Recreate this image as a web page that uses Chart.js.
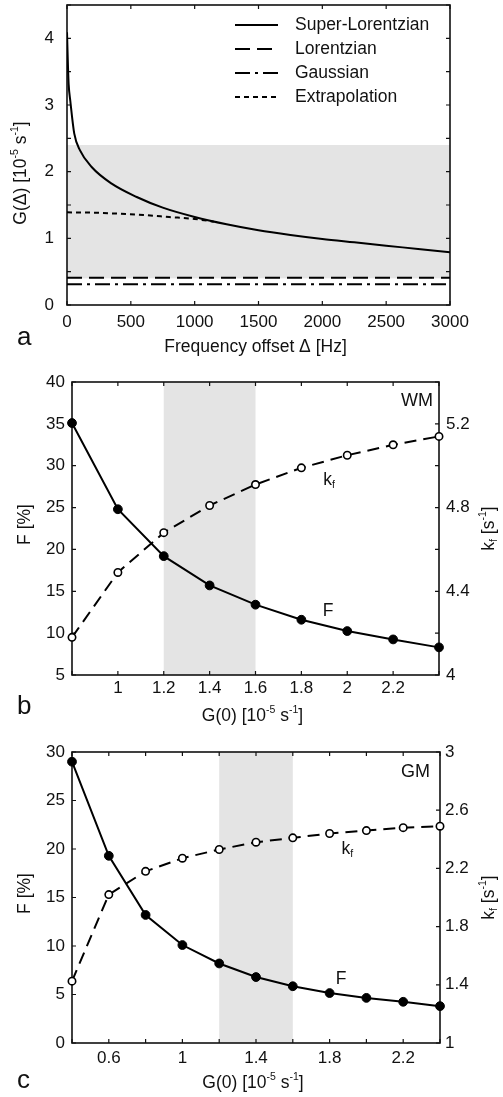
<!DOCTYPE html>
<html>
<head>
<meta charset="utf-8">
<script src="https://cdn.jsdelivr.net/npm/chart.js@4.4.1/dist/chart.umd.min.js"></script>
<style>
  body { margin: 0; background: #fff; }
  .pannello { position: absolute; left: 0; }
</style>
</head>
<body>
<canvas id="graficoA" class="pannello" width="503" height="365" style="top:0px"></canvas>
<canvas id="graficoB" class="pannello" width="503" height="365" style="top:365px"></canvas>
<canvas id="graficoC" class="pannello" width="503" height="367" style="top:730px"></canvas>
<script>
// === DATI ===
// Pannello a: G(Δ) [10^-5 s^-1] in funzione dell'offset di frequenza [Hz]
const freqSuperLor = [0, 8, 13, 26, 57, 102, 193, 350, 546, 750, 1000, 1250, 1500, 1750, 2000, 2250, 2500, 2750, 3000];
const gSuperLor    = [4.09, 3.56, 3.31, 3.06, 2.57, 2.32, 2.07, 1.82, 1.62, 1.46, 1.32, 1.21, 1.12, 1.05, 0.99, 0.94, 0.89, 0.84, 0.79];
const freqExtrap   = [0, 200, 400, 600, 800, 1000, 1150];
const gExtrap      = [1.39, 1.385, 1.37, 1.35, 1.32, 1.29, 1.25];
const freqCostanti = [0, 3000];
const gLorentz     = [0.41, 0.41];
const gGauss       = [0.31, 0.31];
const bandaG       = [0.4, 2.4];
const tickFreq     = [0, 3000, 500];
const tickG        = [0, 4.5, 0.5];

// Pannello b: sostanza bianca (WM)
const g0WM  = [0.8, 1.0, 1.2, 1.4, 1.6, 1.8, 2.0, 2.2, 2.4];
const fWM   = [35.1, 24.8, 19.2, 15.7, 13.4, 11.6, 10.25, 9.25, 8.3];
const kfWM  = [4.18, 4.49, 4.68, 4.81, 4.91, 4.99, 5.05, 5.10, 5.14];

// Pannello c: sostanza grigia (GM)
const g0GM  = [0.4, 0.6, 0.8, 1.0, 1.2, 1.4, 1.6, 1.8, 2.0, 2.2, 2.4];
const fGM   = [29.0, 19.3, 13.2, 10.1, 8.2, 6.8, 5.85, 5.15, 4.65, 4.25, 3.8];
const kfGM  = [1.425, 2.02, 2.18, 2.27, 2.33, 2.38, 2.41, 2.44, 2.46, 2.48, 2.49];

// intervallo G(0) evidenziato nei pannelli b e c
const bandaG0 = [1.2, 1.6];

const FONT = "'Liberation Sans', Arial, Helvetica, sans-serif";
const NERO = '#111';
Chart.defaults.font.family = FONT;
Chart.defaults.font.size = 17;
Chart.defaults.color = NERO;

// Scrive testo con apici / pedici: pezzi = [[testo, 'sup'|'sub'|undefined], ...]
function scriviRicco(ctx, pezzi, x, y, dim, allinea = 'center', ruota = false) {
  ctx.save();
  ctx.translate(x, y);
  if (ruota) ctx.rotate(-Math.PI / 2);
  ctx.textBaseline = 'middle';
  ctx.fillStyle = NERO;
  const misure = pezzi.map(([t, tipo]) => {
    ctx.font = `${tipo ? dim * 0.6 : dim}px ${FONT}`;
    return ctx.measureText(t).width;
  });
  const tot = misure.reduce((a, b) => a + b, 0);
  let cx = allinea === 'center' ? -tot / 2 : (allinea === 'right' ? -tot : 0);
  pezzi.forEach(([t, tipo], i) => {
    ctx.font = `${tipo ? dim * 0.6 : dim}px ${FONT}`;
    const dy = tipo === 'sup' ? -dim * 0.32 : (tipo === 'sub' ? dim * 0.3 : 0);
    ctx.fillText(t, cx, dy);
    cx += misure[i];
  });
  ctx.restore();
}

// Plugin: banda grigia, tacche interne, riquadro, testi
const pluginCornice = {
  id: 'cornice',
  beforeDatasetsDraw(chart, args, opz) {
    const { ctx, chartArea: a, scales } = chart;
    ctx.save();
    if (opz.banda) {
      const [da, fino] = opz.banda.valori;
      ctx.fillStyle = '#e4e4e4';
      if (opz.banda.asse === 'x') {
        const x1 = scales.x.getPixelForValue(da), x2 = scales.x.getPixelForValue(fino);
        ctx.fillRect(x1, a.top, x2 - x1, a.bottom - a.top);
      } else {
        const y1 = scales.y.getPixelForValue(fino), y2 = scales.y.getPixelForValue(da);
        ctx.fillRect(a.left, y1, a.right - a.left, y2 - y1);
      }
    }
    const L = 4;
    ctx.strokeStyle = NERO;
    ctx.lineWidth = 1.2;
    ctx.beginPath();
    scales.x.ticks.forEach(t => {
      const px = scales.x.getPixelForValue(t.value);
      ctx.moveTo(px, a.bottom); ctx.lineTo(px, a.bottom - L);
      ctx.moveTo(px, a.top); ctx.lineTo(px, a.top + L);
    });
    scales.y.ticks.forEach(t => {
      const py = scales.y.getPixelForValue(t.value);
      ctx.moveTo(a.left, py); ctx.lineTo(a.left + L, py);
      if (!scales.y2) { ctx.moveTo(a.right, py); ctx.lineTo(a.right - L, py); }
    });
    if (scales.y2) {
      scales.y2.ticks.forEach(t => {
        const py = scales.y2.getPixelForValue(t.value);
        ctx.moveTo(a.right, py); ctx.lineTo(a.right - L, py);
      });
    }
    ctx.stroke();
    ctx.lineWidth = 1.6;
    ctx.strokeRect(a.left, a.top, a.right - a.left, a.bottom - a.top);
    ctx.restore();
  },
  afterDraw(chart, args, opz) {
    if (opz.testi) opz.testi(chart);
  }
};
Chart.register(pluginCornice);

// Costruisce un asse lineare con dimensione fissa
function asse(o) {
  return {
    type: 'linear',
    position: o.pos,
    min: o.min,
    max: o.max,
    grid: { display: false, drawTicks: false },
    border: { display: false },
    ticks: {
      stepSize: o.passo,
      padding: o.pad,
      autoSkip: false,
      maxRotation: 0,
      color: NERO,
      callback: o.etichetta
    },
    afterFit: s => {
      if (o.larghezza != null) s.width = o.larghezza;
      if (o.altezza != null) s.height = o.altezza;
      s.paddingTop = s.paddingBottom = s.paddingLeft = s.paddingRight = 0;
    }
  };
}

const arrotonda = v => Math.round(v * 10) / 10;
const punti = (xs, ys) => xs.map((x, i) => ({ x, y: ys[i] }));

function serieLinea(label, xs, ys, tratteggio, monot) {
  return {
    label,
    data: punti(xs, ys),
    borderColor: '#000',
    borderWidth: 2,
    borderDash: tratteggio,
    pointRadius: 0,
    fill: false,
    cubicInterpolationMode: monot ? 'monotone' : 'default',
    tension: 0
  };
}

// === PANNELLO a ===
function creaGraficoA() {
  const ctx = document.getElementById('graficoA').getContext('2d');
  const serie = [
    serieLinea('Extrapolation', freqExtrap, gExtrap, [5, 4], true),
    serieLinea('Super-Lorentzian', freqSuperLor, gSuperLor, [], true),
    serieLinea('Lorentzian', freqCostanti, gLorentz, [15, 7], false),
    serieLinea('Gaussian', freqCostanti, gGauss, [15, 5, 3, 5], false)
  ];
  const ordineLegenda = ['Super-Lorentzian', 'Lorentzian', 'Gaussian', 'Extrapolation'];
  new Chart(ctx, {
    type: 'line',
    data: { datasets: serie },
    options: {
      responsive: false,
      animation: false,
      layout: { padding: { top: 5, right: 53, left: 0, bottom: 0 } },
      scales: {
        x: asse({ pos: 'bottom', min: tickFreq[0], max: tickFreq[1], passo: tickFreq[2], pad: 7, altezza: 60,
                  etichetta: v => String(v) }),
        y: asse({ pos: 'left', min: tickG[0], max: tickG[1], passo: tickG[2], pad: 13, larghezza: 67,
                  etichetta: v => (Math.abs(v - Math.round(v)) < 1e-6 ? String(Math.round(v)) : '') })
      },
      plugins: {
        legend: { display: false },
        tooltip: { enabled: false },
        cornice: {
          banda: { asse: 'y', valori: bandaG },
          testi: chart => {
            const c = chart.ctx, a = chart.chartArea;
            // legenda interna
            ordineLegenda.forEach((nome, i) => {
              const ds = chart.data.datasets.find(d => d.label === nome);
              const yy = 25 + i * 24;
              c.save();
              c.strokeStyle = '#000';
              c.lineWidth = ds.borderWidth;
              c.setLineDash(ds.borderDash);
              c.beginPath(); c.moveTo(235, yy); c.lineTo(278, yy); c.stroke();
              c.restore();
              scriviRicco(c, [[nome]], 295, yy, 17.5, 'left');
            });
            scriviRicco(c, [['Frequency offset Δ [Hz]']], (a.left + a.right) / 2 - 3, a.bottom + 42, 17.5);
            scriviRicco(c, [['G(Δ) [10'], ['-5', 'sup'], [' s'], ['-1', 'sup'], [']']], 21, (a.top + a.bottom) / 2 + 18, 17.5, 'center', true);
            scriviRicco(c, [['a']], 17, a.bottom + 33, 26, 'left');
          }
        }
      }
    }
  });
}

// === PANNELLI b e c ===
function creaGraficoG0(id, g0, f, kf, cfg) {
  const ctx = document.getElementById(id).getContext('2d');
  new Chart(ctx, {
    type: 'line',
    data: {
      datasets: [
        {
          label: 'F',
          data: punti(g0, f),
          yAxisID: 'y',
          borderColor: '#000',
          borderWidth: 2,
          pointRadius: 4.4,
          pointBorderWidth: 1,
          pointBackgroundColor: '#000',
          pointBorderColor: '#000',
          tension: 0,
          clip: false
        },
        {
          label: 'kf',
          data: punti(g0, kf),
          yAxisID: 'y2',
          borderColor: '#000',
          borderWidth: 2,
          borderDash: [12, 7],
          pointRadius: 3.7,
          pointBorderWidth: 1.6,
          pointBackgroundColor: '#fff',
          pointBorderColor: '#000',
          tension: 0,
          clip: false
        }
      ]
    },
    options: {
      responsive: false,
      animation: false,
      layout: { padding: { top: cfg.top, right: 0, left: 0, bottom: 0 } },
      scales: {
        x: asse({ pos: 'bottom', min: cfg.x[0], max: cfg.x[1], passo: 0.2, pad: cfg.padX, altezza: cfg.altX,
                  etichetta: cfg.etichettaX }),
        y: asse({ pos: 'left', min: cfg.y[0], max: cfg.y[1], passo: 5, pad: 7, larghezza: 72,
                  etichetta: v => String(Math.round(v)) }),
        y2: asse({ pos: 'right', min: cfg.y2[0], max: cfg.y2[1], passo: cfg.y2[2], pad: cfg.padY2, larghezza: cfg.largY2,
                   etichetta: cfg.etichettaY2 })
      },
      plugins: {
        legend: { display: false },
        tooltip: { enabled: false },
        cornice: {
          banda: { asse: 'x', valori: bandaG0 },
          testi: chart => {
            const c = chart.ctx, a = chart.chartArea, s = chart.scales;
            const cx = (a.left + a.right) / 2;
            scriviRicco(c, [['G(0) [10'], ['-5', 'sup'], [' s'], ['-1', 'sup'], [']']], cx - 3, a.bottom + cfg.offTitoloX, 17.5);
            scriviRicco(c, [['F [%]']], 25, (a.top + a.bottom) / 2 - 4, 17.5, 'center', true);
            scriviRicco(c, [['k'], ['f', 'sub'], [' [s'], ['-1', 'sup'], [']']], 489, (a.top + a.bottom) / 2, 17.5, 'center', true);
            scriviRicco(c, [[cfg.nome]], s.x.getPixelForValue(cfg.posNome[0]), s.y.getPixelForValue(cfg.posNome[1]), 18, 'right');
            scriviRicco(c, [['k'], ['f', 'sub']], s.x.getPixelForValue(cfg.posKf[0]), s.y.getPixelForValue(cfg.posKf[1]), 17.5, 'left');
            scriviRicco(c, [['F']], s.x.getPixelForValue(cfg.posF[0]), s.y.getPixelForValue(cfg.posF[1]), 17.5, 'center');
            scriviRicco(c, [[cfg.lettera]], 17, a.bottom + cfg.offLettera, 26, 'left');
          }
        }
      }
    }
  });
}

window.addEventListener('DOMContentLoaded', () => {
  creaGraficoA();

  creaGraficoG0('graficoB', g0WM, fWM, kfWM, {
    top: 17, altX: 55, padX: 3, largY2: 64, padY2: 7,
    x: [0.8, 2.4], y: [5, 40], y2: [4, 5.4, 0.2],
    etichettaX: v => { const n = Math.round(v * 10); return (n === 8 || n === 24) ? '' : String(arrotonda(v)); },
    etichettaY2: v => (Math.round(v * 10) % 4 === 0 ? String(arrotonda(v)) : ''),
    offTitoloX: 41, offLettera: 32,
    nome: 'WM', posNome: [2.374, 37.7], posKf: [1.895, 28.3], posF: [1.916, 12.64], lettera: 'b'
  });

  creaGraficoG0('graficoC', g0GM, fGM, kfGM, {
    top: 22, altX: 54, padX: 5, largY2: 63, padY2: 5,
    x: [0.4, 2.4], y: [0, 30], y2: [1, 3, 0.4],
    etichettaX: v => { const n = Math.round(v * 10); return ((n - 2) % 4 === 0 && n > 2 && n < 24) ? String(arrotonda(v)) : ''; },
    etichettaY2: v => String(arrotonda(v)),
    offTitoloX: 40, offLettera: 38,
    nome: 'GM', posNome: [2.346, 27.97], posKf: [1.865, 20], posF: [1.862, 6.6], lettera: 'c'
  });
});
</script>
</body>
</html>
